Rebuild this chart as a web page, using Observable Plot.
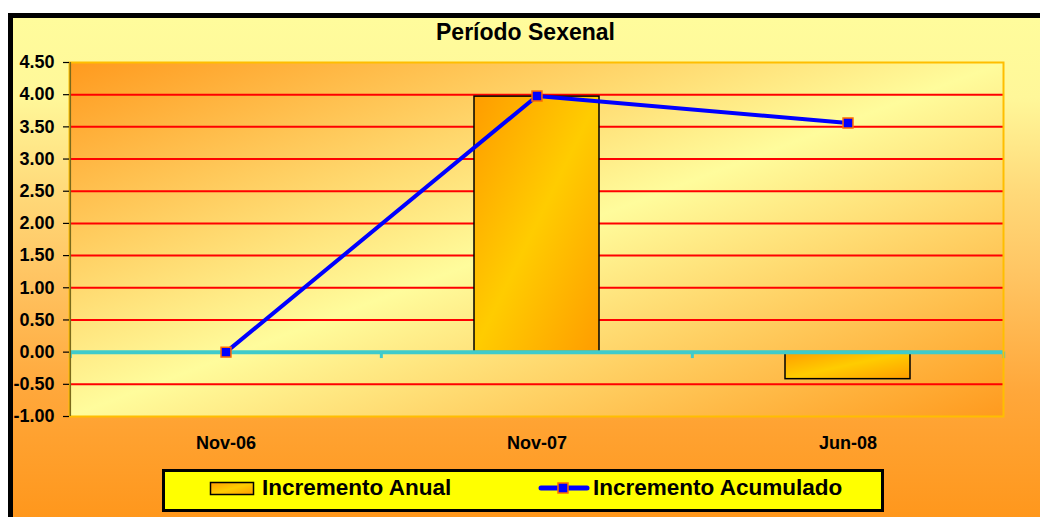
<!DOCTYPE html>
<html>
<head>
<meta charset="utf-8">
<script src="https://cdn.jsdelivr.net/npm/d3@7"></script>
<script src="https://cdn.jsdelivr.net/npm/@observablehq/plot@0.6"></script>
<style>
  html, body { margin: 0; padding: 0; background: #fff; overflow: hidden; width: 1040px; height: 517px; }
  #wrap { position: relative; width: 1040px; height: 517px; overflow: hidden; font-family: "Liberation Sans", Arial, sans-serif; }
  #bg { position: absolute; left: 8px; top: 13px; width: 1100px; height: 510px; box-sizing: border-box;
        border: 5px solid #000;
        background: linear-gradient(to bottom, #FFFC9C 0%, #FFF799 16%, #FFD979 35%, #FFC462 52%, #FFA73A 75%, #FF971C 100%); }
  #chart { position: absolute; left: 0; top: 0; }
  #title { position: absolute; left: 0; top: 21px; width: 1051px; text-align: center; font: bold 23px/23px "Liberation Sans", Arial, sans-serif; color: #000; }
  #legend { position: absolute; left: 162px; top: 469px; }
</style>
</head>
<body>
<svg width="0" height="0" style="position:absolute">
  <defs>
    <linearGradient id="plotGrad" x1="0" y1="0" x2="1" y2="1">
      <stop offset="0" stop-color="#FF9A1E"/>
      <stop offset="0.5" stop-color="#FFFC9C"/>
      <stop offset="1" stop-color="#FF9A1E"/>
    </linearGradient>
    <linearGradient id="barGrad" x1="0" y1="0" x2="1" y2="1">
      <stop offset="0" stop-color="#FF9C00"/>
      <stop offset="0.5" stop-color="#FFCC00"/>
      <stop offset="1" stop-color="#FF9C00"/>
    </linearGradient>
  </defs>
</svg>
<div id="wrap">
  <div id="bg"></div>
  <div id="chart"></div>
  <div id="title">Período Sexenal</div>
  <svg id="legend" width="724" height="46"></svg>
</div>
<script>
// ---- data ----
const categories = ["Nov-06", "Nov-07", "Jun-08"];
const incrementoAnual = [0, 3.97, -0.42];
const incrementoAcumulado = [0, 3.98, 3.56];
const yTicks = [-1, -0.5, 0, 0.5, 1, 1.5, 2, 2.5, 3, 3.5, 4, 4.5];
const gridValues = [-0.5, 0.5, 1, 1.5, 2, 2.5, 3, 3.5, 4];
const seriesNames = ["Incremento Anual", "Incremento Acumulado"];

const rows = categories.map((c, i) => ({cat: c, anual: incrementoAnual[i], acum: incrementoAcumulado[i]}));

const W = 1040, H = 517;
const mL = 69, mR = 37, mT = 62, mB = 101;
const bw = (W - mL - mR) / categories.length;

const chart = Plot.plot({
  width: W,
  height: H,
  marginLeft: mL,
  marginRight: mR,
  marginTop: mT,
  marginBottom: mB,
  style: {background: "none", fontFamily: "'Liberation Sans', Arial, sans-serif", fontSize: "18px", fontWeight: "bold", color: "#000", overflow: "visible"},
  x: {domain: categories, padding: 0, label: null},
  y: {domain: [-1, 4.5], label: null},
  marks: [
    Plot.frame({fill: "url(#plotGrad)", stroke: "none"}),
    Plot.ruleY(gridValues, {stroke: "#FF0000", strokeWidth: 2}),
    Plot.barY(rows.filter(d => d.anual !== 0), {x: "cat", y: "anual", fill: "url(#barGrad)", stroke: "#000", strokeWidth: 1.5, insetLeft: 93, insetRight: 93}),
    Plot.ruleY([0], {stroke: "#3FCBCB", strokeWidth: 4}),
    Plot.ruleX(categories, {x: d => d, y1: 0, y2: -0.1, dx: -bw / 2, stroke: "#3FCBCB", strokeWidth: 3}),
    Plot.ruleX([categories[categories.length - 1]], {x: d => d, y1: 0, y2: -0.1, dx: bw / 2, stroke: "#3FCBCB", strokeWidth: 3}),
    Plot.frame({stroke: "#FFBE00", strokeWidth: 2}),
    Plot.ruleX([categories[0]], {x: d => d, dx: -bw / 2, stroke: "#7A6A1A", strokeWidth: 1.5}),
    Plot.line(rows, {x: "cat", y: "acum", stroke: "#0000FF", strokeWidth: 4}),
    Plot.dot(rows, {x: "cat", y: "acum", symbol: "square", r: 5.6, fill: "#0000FF", stroke: "#FF6A00", strokeWidth: 1.5}),
    Plot.axisY({ticks: yTicks, tickFormat: d => d.toFixed(2), tickSize: 6, tickPadding: 9, stroke: "#000", strokeWidth: 1.2, label: null}),
    Plot.axisX({tickSize: 0, tickPadding: 20, label: null})
  ]
});
document.getElementById("chart").appendChild(chart);

// ---- legend ----
const lg = d3.select("#legend");
lg.append("rect").attr("x", 1.5).attr("y", 1.5).attr("width", 719).attr("height", 40)
  .attr("fill", "#FFFF00").attr("stroke", "#000").attr("stroke-width", 3);
lg.append("rect").attr("x", 48.5).attr("y", 13.5).attr("width", 43).attr("height", 12)
  .attr("fill", "url(#barGrad)").attr("stroke", "#000").attr("stroke-width", 1.5);
lg.append("text").attr("x", 100).attr("y", 25.5).text(seriesNames[0])
  .attr("font-family", "'Liberation Sans', Arial, sans-serif").attr("font-weight", "bold").attr("font-size", 22.5);
lg.append("line").attr("x1", 379).attr("x2", 425).attr("y1", 19).attr("y2", 19)
  .attr("stroke", "#0000FF").attr("stroke-width", 5).attr("stroke-linecap", "round");
lg.append("rect").attr("x", 396).attr("y", 14).attr("width", 10).attr("height", 10)
  .attr("fill", "#0000FF").attr("stroke", "#FF6A00").attr("stroke-width", 1.5);
lg.append("text").attr("x", 431).attr("y", 25.5).text(seriesNames[1])
  .attr("font-family", "'Liberation Sans', Arial, sans-serif").attr("font-weight", "bold").attr("font-size", 22.5);
</script>
</body>
</html>
